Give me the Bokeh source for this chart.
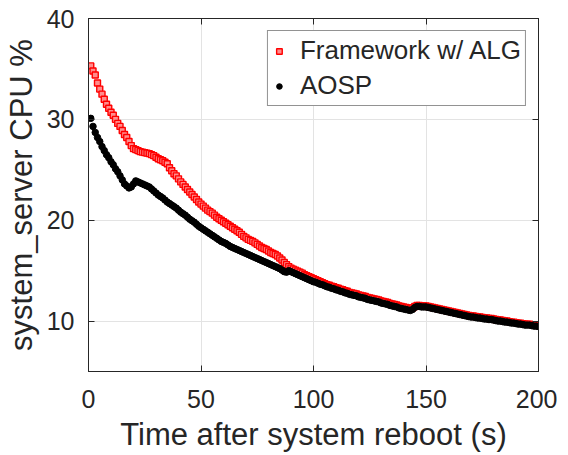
from bokeh.plotting import figure
from bokeh.models import Range1d, LinearAxis, FixedTicker, Legend, LegendItem
from bokeh.embed import file_html
from bokeh.resources import INLINE

time_s = list(range(1, 201))

framework_alg = [
    35.3, 34.8, 34.4, 33.6, 33.0, 32.5, 32.0, 31.5, 31.1, 30.7,
    30.4, 30.0, 29.6, 29.3, 28.9, 28.5, 28.2, 27.8, 27.4, 27.1,
    27.0, 26.9, 26.8, 26.75, 26.7, 26.65, 26.6, 26.5, 26.4, 26.25,
    26.1, 26.0, 25.9, 25.75, 25.6, 25.2, 24.9, 24.6, 24.4, 24.1,
    23.8, 23.55, 23.3, 23.05, 22.8, 22.55, 22.3, 22.05, 21.8, 21.6,
    21.4, 21.2, 21.0, 20.85, 20.7, 20.5, 20.3, 20.15, 20.0, 19.85,
    19.7, 19.55, 19.4, 19.25, 19.1, 18.95, 18.8, 18.6, 18.4, 18.25,
    18.1, 18.0, 17.9, 17.75, 17.6, 17.45, 17.3, 17.2, 17.1, 16.95,
    16.8, 16.7, 16.6, 16.45, 16.25, 16.05, 15.8, 15.6, 15.4, 15.25,
    15.15, 15.05, 14.95, 14.85, 14.75, 14.6, 14.5, 14.4, 14.3, 14.2,
    14.1, 14.0, 13.9, 13.8, 13.7, 13.6, 13.55, 13.45, 13.4, 13.3,
    13.25, 13.15, 13.1, 13.0, 12.95, 12.85, 12.8, 12.75, 12.7, 12.6,
    12.55, 12.5, 12.45, 12.35, 12.3, 12.25, 12.2, 12.15, 12.1, 12.0,
    11.95, 11.9, 11.85, 11.75, 11.7, 11.65, 11.6, 11.5, 11.45, 11.4,
    11.35, 11.3, 11.25, 11.3, 11.45, 11.55, 11.55, 11.5, 11.5, 11.5,
    11.45, 11.4, 11.35, 11.3, 11.25, 11.2, 11.15, 11.1, 11.05, 11.0,
    10.95, 10.9, 10.85, 10.8, 10.75, 10.7, 10.65, 10.6, 10.55, 10.5,
    10.5, 10.45, 10.4, 10.4, 10.35, 10.3, 10.3, 10.25, 10.25, 10.2,
    10.15, 10.1, 10.1, 10.05, 10.0, 10.0, 9.95, 9.9, 9.9, 9.85,
    9.8, 9.8, 9.75, 9.7, 9.7, 9.7, 9.65, 9.6, 9.6, 9.55]

aosp = [
    30.1, 29.3, 28.7, 28.2, 27.8, 27.3, 26.9, 26.5, 26.2, 25.8,
    25.5, 25.1, 24.8, 24.4, 24.0, 23.6, 23.4, 23.2, 23.3, 23.6,
    23.9, 23.8, 23.7, 23.6, 23.5, 23.4, 23.3, 23.1, 22.9, 22.7,
    22.5, 22.35, 22.2, 22.0, 21.8, 21.65, 21.5, 21.35, 21.2, 21.0,
    20.8, 20.65, 20.5, 20.3, 20.1, 19.95, 19.8, 19.6, 19.4, 19.25,
    19.1, 18.95, 18.8, 18.65, 18.5, 18.35, 18.2, 18.05, 17.9, 17.8,
    17.7, 17.55, 17.4, 17.3, 17.2, 17.1, 17.0, 16.9, 16.8, 16.7,
    16.6, 16.5, 16.4, 16.3, 16.2, 16.1, 16.0, 15.9, 15.8, 15.7,
    15.6, 15.5, 15.4, 15.3, 15.2, 15.05, 14.9, 14.85, 15.0, 14.9,
    14.8, 14.7, 14.6, 14.5, 14.4, 14.3, 14.2, 14.1, 14.0, 13.9,
    13.85, 13.75, 13.65, 13.6, 13.5, 13.4, 13.35, 13.25, 13.2, 13.1,
    13.05, 12.95, 12.9, 12.8, 12.75, 12.65, 12.6, 12.55, 12.5, 12.4,
    12.35, 12.3, 12.25, 12.15, 12.1, 12.05, 12.0, 11.95, 11.9, 11.8,
    11.75, 11.7, 11.65, 11.55, 11.5, 11.45, 11.4, 11.3, 11.25, 11.2,
    11.15, 11.1, 11.05, 11.15, 11.35, 11.45, 11.45, 11.4, 11.4, 11.4,
    11.35, 11.3, 11.25, 11.2, 11.15, 11.1, 11.05, 11.0, 10.95, 10.9,
    10.85, 10.8, 10.75, 10.7, 10.65, 10.6, 10.55, 10.5, 10.45, 10.4,
    10.4, 10.35, 10.3, 10.3, 10.25, 10.2, 10.2, 10.15, 10.15, 10.1,
    10.05, 10.0, 10.0, 9.95, 9.9, 9.9, 9.85, 9.8, 9.8, 9.75,
    9.7, 9.7, 9.65, 9.6, 9.6, 9.6, 9.55, 9.5, 9.5, 9.45]

x_ticks = [0, 50, 100, 150, 200]
y_ticks = [10, 20, 30, 40]

FONT = "Liberation Sans"
TXT = "#262626"

p = figure(frame_width=450, frame_height=353, output_backend="svg", toolbar_location=None,
           x_range=Range1d(0, 200), y_range=Range1d(5, 40),
           min_border_left=83, min_border_top=18, min_border_right=19, min_border_bottom=60)
p.outline_line_color = TXT
p.outline_line_width = 1
p.background_fill_color = "white"

r_red = p.scatter(time_s, framework_alg, marker="square", size=6, line_color="red",
                  fill_color="#ff8c8c", fill_alpha=1.0, line_width=1.4)
r_blk = p.scatter(time_s, aosp, marker="circle", size=6.5, line_color="black",
                  fill_color="black")

for ax in (p.xaxis[0], p.yaxis[0]):
    ax.major_label_text_font = FONT
    ax.major_label_text_font_size = "25px"
    ax.major_label_text_color = TXT
    ax.axis_label_text_font = FONT
    ax.axis_label_text_font_size = "31px"
    ax.axis_label_text_font_style = "normal"
    ax.axis_label_text_color = TXT
    ax.axis_line_color = TXT
    ax.major_tick_line_color = TXT
    ax.major_tick_in = 6
    ax.major_tick_out = 0
    ax.minor_tick_line_color = None

p.xaxis[0].ticker = FixedTicker(ticks=x_ticks)
p.yaxis[0].ticker = FixedTicker(ticks=y_ticks)
p.xaxis[0].axis_label = "Time after system reboot (s)"
p.yaxis[0].axis_label = "system_server CPU %"
p.xaxis[0].major_label_standoff = 18
p.yaxis[0].major_label_standoff = 14
p.xaxis[0].axis_label_standoff = 6
p.yaxis[0].axis_label_standoff = 5

top_ax = LinearAxis(ticker=FixedTicker(ticks=x_ticks), major_label_text_font_size="0px",
                    major_tick_in=6, major_tick_out=0, axis_line_color=TXT,
                    major_tick_line_color=TXT, minor_tick_line_color=None)
right_ax = LinearAxis(ticker=FixedTicker(ticks=y_ticks), major_label_text_font_size="0px",
                      major_tick_in=6, major_tick_out=0, axis_line_color=TXT,
                      major_tick_line_color=TXT, minor_tick_line_color=None)
top_ax.major_label_overrides = {t: "" for t in x_ticks}
right_ax.major_label_overrides = {t: "" for t in y_ticks}
p.add_layout(top_ax, "above")
p.add_layout(right_ax, "right")

p.xgrid.ticker = FixedTicker(ticks=x_ticks)
p.ygrid.ticker = FixedTicker(ticks=y_ticks)
p.grid.grid_line_color = "#e3e3e3"
p.grid.grid_line_width = 1

legend = Legend(items=[LegendItem(label="Framework w/ ALG", renderers=[r_red]),
                       LegendItem(label="AOSP", renderers=[r_blk])],
                location="top_right")
legend.label_text_font = FONT
legend.label_text_font_size = "26px"
legend.label_text_color = TXT
legend.border_line_color = TXT
legend.border_line_width = 1
legend.background_fill_color = "white"
legend.background_fill_alpha = 1.0
legend.margin = 12
legend.padding = 4
legend.spacing = 4
legend.glyph_width = 14
legend.glyph_height = 14
legend.label_height = 30
legend.label_standoff = 14
p.add_layout(legend)

open("out.html", "w").write(file_html(p, INLINE))
